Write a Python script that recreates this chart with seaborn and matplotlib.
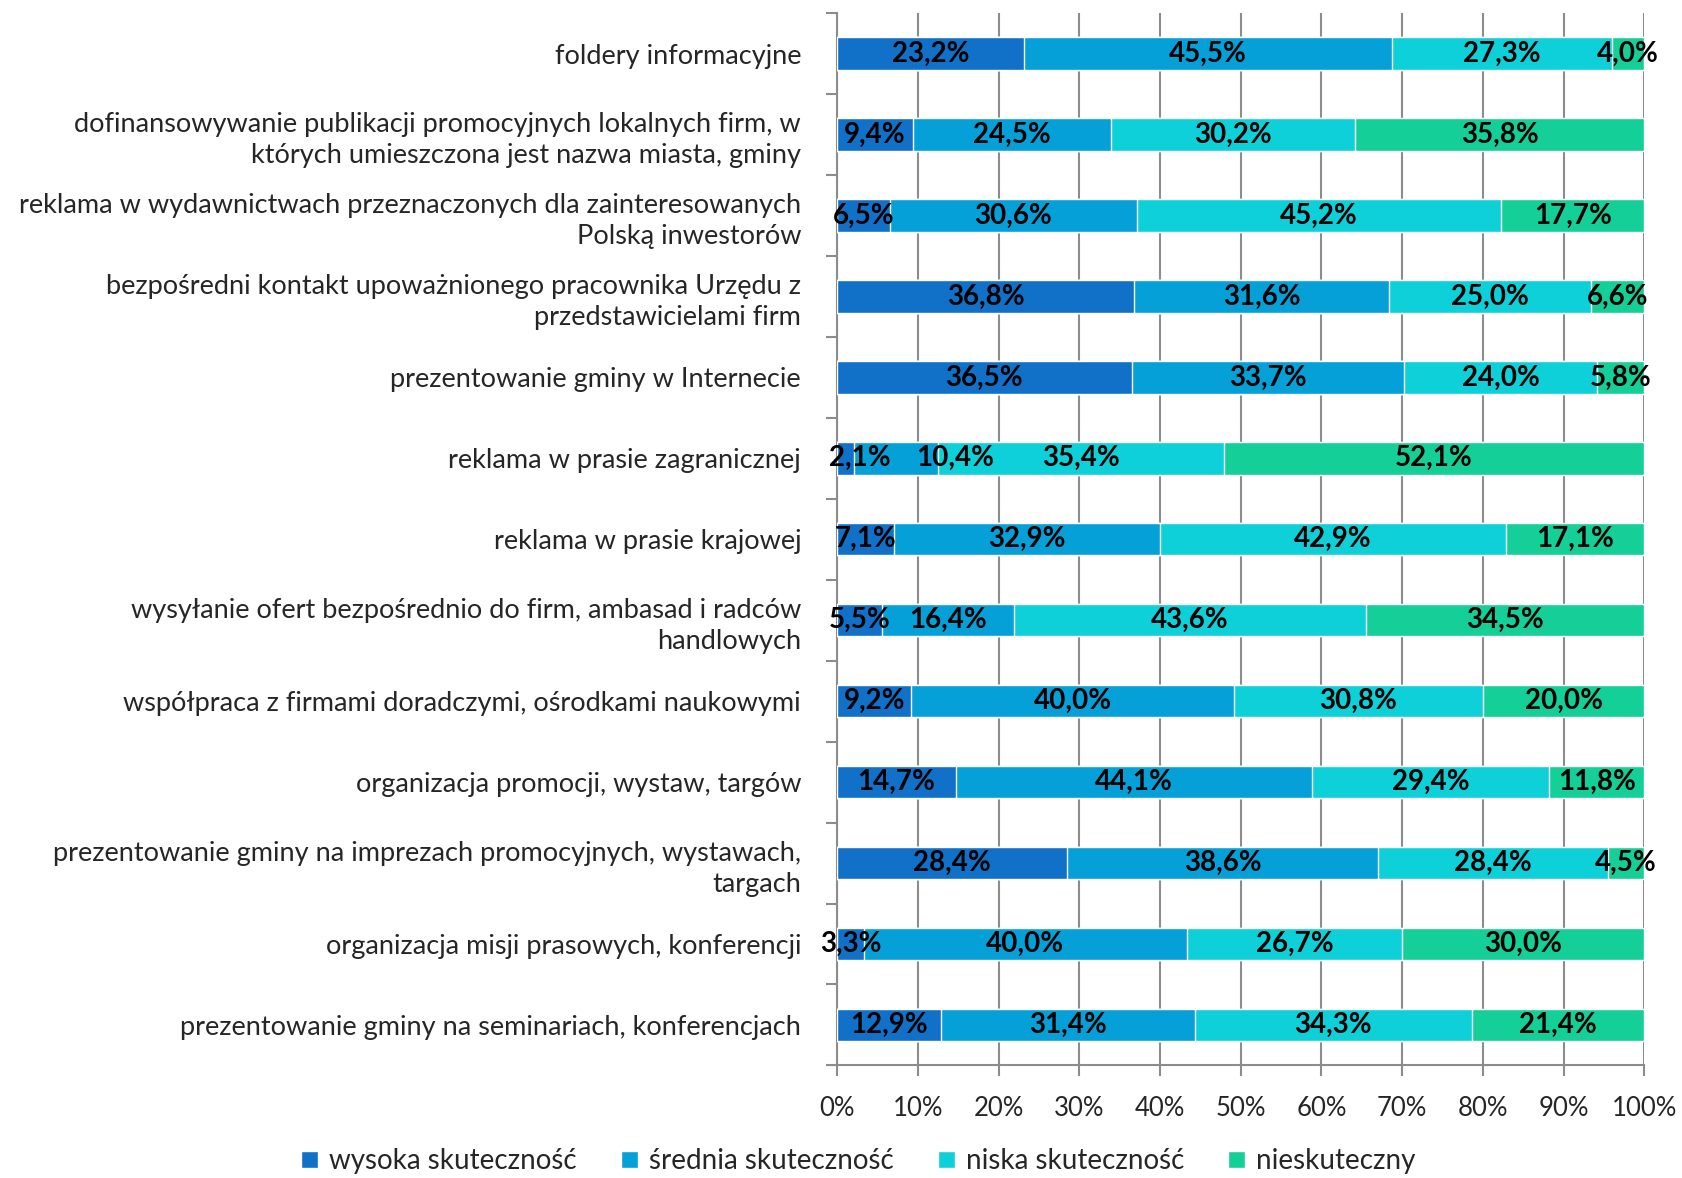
import numpy as np
import pandas as pd
import matplotlib
matplotlib.use("Agg")
import matplotlib.pyplot as plt
import seaborn as sns
from matplotlib.patches import Patch

categories = [
    "foldery informacyjne",
    "dofinansowywanie publikacji promocyjnych lokalnych firm, w\nktórych umieszczona jest nazwa miasta, gminy",
    "reklama w wydawnictwach przeznaczonych dla zainteresowanych\nPolską inwestorów",
    "bezpośredni kontakt upoważnionego pracownika Urzędu z\nprzedstawicielami firm",
    "prezentowanie gminy w Internecie",
    "reklama w prasie zagranicznej",
    "reklama w prasie krajowej",
    "wysyłanie ofert bezpośrednio do firm, ambasad i radców\nhandlowych",
    "współpraca z firmami doradczymi, ośrodkami naukowymi",
    "organizacja promocji, wystaw, targów",
    "prezentowanie gminy na imprezach promocyjnych, wystawach,\ntargach",
    "organizacja misji prasowych, konferencji",
    "prezentowanie gminy na seminariach, konferencjach",
]
series_names = ["wysoka skuteczność", "średnia skuteczność", "niska skuteczność", "nieskuteczny"]
wysoka = [23.2, 9.4, 6.5, 36.8, 36.5, 2.1, 7.1, 5.5, 9.2, 14.7, 28.4, 3.3, 12.9]
srednia = [45.5, 24.5, 30.6, 31.6, 33.7, 10.4, 32.9, 16.4, 40.0, 44.1, 38.6, 40.0, 31.4]
niska = [27.3, 30.2, 45.2, 25.0, 24.0, 35.4, 42.9, 43.6, 30.8, 29.4, 28.4, 26.7, 34.3]
nieskuteczny = [4.0, 35.8, 17.7, 6.6, 5.8, 52.1, 17.1, 34.5, 20.0, 11.8, 4.5, 30.0, 21.4]
x_ticks = [0, 10, 20, 30, 40, 50, 60, 70, 80, 90, 100]

colors = ["#1170C8", "#05A0D8", "#0ED0D8", "#14CF98"]

sns.set_theme(style="white")
plt.rcParams["font.family"] = ["Lato", "DejaVu Sans"]

vals = np.array([wysoka, srednia, niska, nieskuteczny])
totals = vals.sum(axis=0)
pct = vals / totals * 100
cum = np.cumsum(pct, axis=0)

# label nudges (in axis %) for crowded small segments, as in the reference
nudge = {(5, 0): 1.8, (5, 1): 7.3}

fig = plt.figure(figsize=(16.83, 11.78), dpi=100)
ax = fig.add_axes([0.4974, 0.0956, 0.977 - 0.4974, 0.9888 - 0.0956])

for i in range(3, -1, -1):
    df = pd.DataFrame({"cat": categories, "v": cum[i]})
    sns.barplot(data=df, y="cat", x="v", orient="h", color=colors[i],
                width=0.4, saturation=1, ax=ax, order=categories, zorder=3)

for j in range(len(categories)):
    start = 0
    for i in range(4):
        w = pct[i, j]
        ax.text(start + w / 2 + nudge.get((j, i), 0), j,
                f"{vals[i, j]:.1f}%".replace(".", ","),
                ha="center", va="center", fontsize=20, fontweight="bold",
                color="black", zorder=5)
        start += w

ax.set_xlim(0, 100)
ax.set_ylim(len(categories) - 0.5, -0.5)
ax.set_xticks(x_ticks)
ax.set_xticklabels([f"{t}%" for t in x_ticks], fontsize=18.5)
ax.set_yticks(range(len(categories)))
ax.set_yticklabels(categories, fontsize=19.5, ha="right", linespacing=1.3)
ax.set_xlabel("")
ax.set_ylabel("")
ax.xaxis.grid(True, color="#8C8C8C", linewidth=1.5, zorder=0)
ax.set_axisbelow(True)
for s in ["top", "right"]:
    ax.spines[s].set_visible(False)
for s in ["left", "bottom"]:
    ax.spines[s].set_color("#8C8C8C")
    ax.spines[s].set_linewidth(1.5)

ax.tick_params(axis="y", length=0, pad=26)
ax.tick_params(axis="x", length=8, color="#8C8C8C", width=1.5, pad=14, bottom=True)
ax.set_yticks(np.arange(-0.5, len(categories) + 0.5, 1), minor=True)
ax.tick_params(axis="y", which="minor", length=8, color="#8C8C8C", width=1.5, left=True)

handles = [Patch(facecolor=c, label=n) for c, n in zip(colors, series_names)]
fig.legend(handles=handles, loc="lower center", bbox_to_anchor=(0.51, -0.018), ncol=4,
           frameon=False, fontsize=20, handlelength=0.6, handleheight=0.6,
           handletextpad=0.4, columnspacing=1.6)

fig.savefig("out.png", dpi=100)
